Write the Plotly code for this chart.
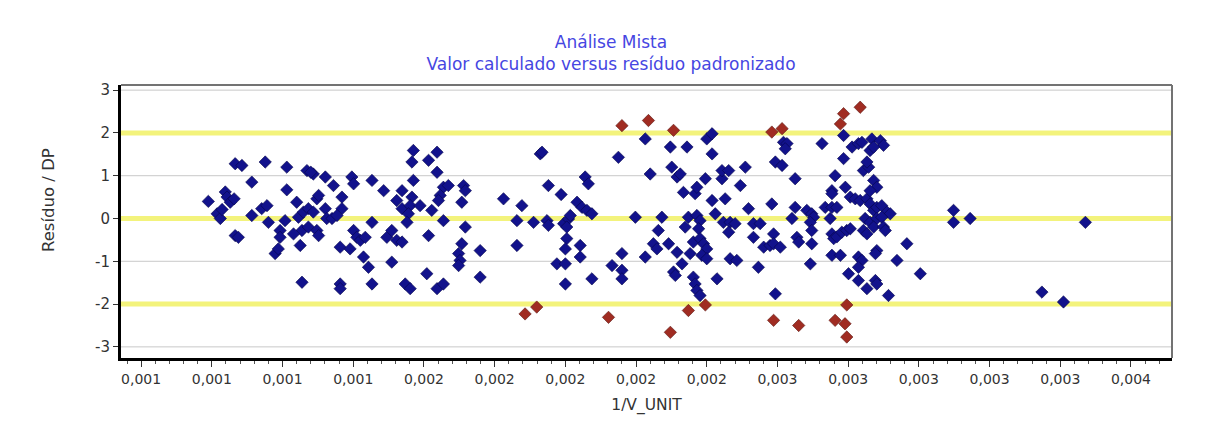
import plotly.graph_objects as go

title_lines = ["Análise Mista", "Valor calculado versus resíduo padronizado"]
x_label = "1/V_UNIT"
y_label = "Resíduo / DP"

# Points inside the +/-2 band (blue)
x_in = [
    0.000990, 0.001015, 0.001024, 0.001029, 0.001038, 0.001043, 0.001052, 0.001063,
    0.001066, 0.001085, 0.001066, 0.001075, 0.001113, 0.001113, 0.001141, 0.001156,
    0.001151, 0.001160, 0.001212, 0.001212, 0.001179, 0.001188, 0.001193, 0.001193,
    0.001207, 0.001240, 0.001245, 0.001259, 0.001255, 0.001231, 0.001250, 0.001255,
    0.001269, 0.001287, 0.001280, 0.001273, 0.001287, 0.001273, 0.001297, 0.001302,
    0.001297, 0.001302, 0.001321, 0.001321, 0.001325, 0.001340, 0.001344, 0.001368,
    0.001368, 0.001354, 0.001363, 0.001391, 0.001363, 0.001363, 0.001396, 0.001401,
    0.001401, 0.001410, 0.001420, 0.001434, 0.001429, 0.001443, 0.001453, 0.001453,
    0.001453, 0.001486, 0.001495, 0.001509, 0.001523, 0.001509, 0.001523, 0.001538,
    0.001538, 0.001547,
    0.001570, 0.001566, 0.001570, 0.001566, 0.001561, 0.001556, 0.001552, 0.001589,
    0.001538, 0.001613, 0.001637, 0.001637, 0.001622, 0.001655, 0.001669, 0.001646,
    0.001641, 0.001655, 0.001613, 0.001561, 0.001608, 0.001637, 0.001655, 0.001712,
    0.001717, 0.001707, 0.001717, 0.001707, 0.001698, 0.001702, 0.001698, 0.001759,
    0.001759, 0.001825, 0.001863, 0.001863, 0.001877, 0.001910, 0.001929, 0.001934,
    0.001948, 0.001952, 0.001952, 0.001988, 0.001976, 0.002000, 0.002000, 0.001995,
    0.002009, 0.002014, 0.002004, 0.002004, 0.002000, 0.002033, 0.002047, 0.002061,
    0.002075, 0.002056, 0.002065, 0.002042, 0.002042, 0.002075, 0.002132, 0.002160,
    0.002160, 0.002160, 0.002150, 0.002198, 0.002226, 0.002240, 0.002226, 0.002249,
    0.002259, 0.002263, 0.002273, 0.002297, 0.002344, 0.002301, 0.002316, 0.002325,
    0.002334, 0.002292, 0.002316, 0.002330, 0.002306, 0.002311, 0.002348, 0.002339,
    0.002362, 0.002353, 0.002362, 0.002367, 0.002372, 0.002381, 0.002367, 0.002372,
    0.002372, 0.002381, 0.002377, 0.002381, 0.002391, 0.002400, 0.002386, 0.002400,
    0.002400, 0.002415, 0.002415, 0.002396, 0.002443, 0.002443, 0.002462, 0.002415,
    0.002452, 0.002424, 0.002429, 0.002447, 0.002466, 0.002480, 0.002462, 0.002466,
    0.002485, 0.002495, 0.002509, 0.002518, 0.002532, 0.002551, 0.002532, 0.002546,
    0.002561, 0.002579, 0.002584, 0.002589, 0.002594, 0.002589, 0.002608,
    0.002617, 0.002627, 0.002622, 0.002594, 0.002613, 0.002650, 0.002650, 0.002641,
    0.002683, 0.002697, 0.002702, 0.002693, 0.002697, 0.002655, 0.002660, 0.002697,
    0.002693, 0.002726, 0.002735, 0.002754, 0.002768, 0.002754, 0.002754, 0.002763,
    0.002749, 0.002754, 0.002759, 0.002768, 0.002782, 0.002796, 0.002806, 0.002754,
    0.002778, 0.002787, 0.002787, 0.002811, 0.002829, 0.002839, 0.002792, 0.002806,
    0.002820, 0.002834, 0.002853, 0.002843, 0.002858, 0.002853, 0.002867, 0.002891,
    0.002900, 0.002862, 0.002872, 0.002872, 0.002881, 0.002862, 0.002862, 0.002872,
    0.002881, 0.002895, 0.002910, 0.002919, 0.002848, 0.002862, 0.002881, 0.002895,
    0.002843, 0.002853, 0.002872, 0.002900, 0.002905, 0.002829, 0.002839, 0.002829,
    0.002801, 0.002829, 0.002853, 0.002881, 0.002877, 0.002877, 0.002881, 0.002914,
    0.002938, 0.002966, 0.003004,
    0.003098, 0.003098, 0.003145, 0.003471, 0.003348, 0.003409,
]
y_in = [
    0.40, 0.11, 0.00, 0.21, 0.62, 0.50, 0.38, 0.46,
    1.28, 1.24, -0.40, -0.44, 0.85, 0.07, 0.23, 0.30,
    1.32, -0.09, 1.20, 0.67, -0.82, -0.71, -0.28, -0.44,
    -0.05, 0.38, 0.03, 0.15, -0.28, -0.36, -0.63, -1.49,
    1.12, 1.04, 1.08, 0.23, 0.15, -0.20, -0.28, -0.40,
    0.46, 0.54, 0.97, 0.23, 0.00, 0.00, 0.77, 0.50,
    0.23, 0.07, -0.67, -0.71, -1.53, -1.64, 0.97, 0.81,
    -0.28, -0.44, -0.51, -0.44, -0.90, -1.14, 0.89, -0.09,
    -1.53, 0.65, -0.44, -0.28, -0.51, -1.02, 0.42, 0.23,
    0.65, -1.53,
    1.59, 1.32, 0.89, 0.50, 0.30, 0.11, -0.09, 0.30,
    -0.55, 1.36, 1.55, 1.08, 0.19, 0.73, 0.77, 0.54,
    0.42, -0.05, -0.40, -1.64, -1.29, -1.64, -1.53, 0.77,
    0.65, 0.38, -0.20, -0.59, -0.82, -0.98, -1.10, -0.75,
    -1.37, 0.46, -0.05, -0.63, 0.30, -0.09, 1.51, 1.55,
    -0.05, -0.16, 0.77, 0.56, -1.06, -1.06, -1.53, -0.12,
    -0.01, 0.07, -0.20, -0.47, -0.71, 0.38, 0.26, 0.19,
    0.11, 0.97, 0.81, -0.63, -0.90, -1.41, -1.10, -0.82,
    -1.21, -1.41, 1.43, 0.03, 1.86, 1.04, -0.90, -0.59,
    -0.71, -0.28, 0.03, 1.67, 1.67, 1.20, 0.97, 1.04,
    0.61, -0.59, -0.79, -1.06, -1.25, -1.33, 0.03, -0.20,
    -0.55, -0.82, -1.37, -1.53, -1.68, -1.80, 0.58, 0.73,
    0.07, -0.05, -0.24, -0.47, -0.59, -0.71, -0.86, -0.94,
    1.86, 1.98, 1.51, 0.93, 0.93, 1.12, 1.12, 0.42,
    0.46, 0.11, -1.41, -0.09, -0.09, -0.12, -0.32, -0.94,
    -0.98, 0.77, 1.20, 0.23, -0.12, -0.12, -0.44, -1.14,
    -0.67, -0.63, 0.34, -0.36, -1.76, -0.59, -0.67,
    1.78, 1.75, 1.63, 1.32, 1.24, 0.93, 0.26, 0.00,
    0.19, 0.11, 0.03, -0.09, -0.28, -0.44, -0.55, -0.59,
    -1.06, 1.75, 0.26, 0.26, 0.26, 0.65, 0.58, 1.00,
    0.00, -0.36, -0.47, -0.43, -0.32, -0.28, -0.24, -0.86,
    -0.86, 1.94, 1.40, 1.67, 1.75, 1.78, 0.73, 0.50,
    0.46, 0.42, 0.46, 1.12, 1.20, 1.32, 1.86, 1.82,
    1.71, 1.59, 1.67, 0.89, 0.73, 0.65, 0.34, 0.19,
    0.26, 0.30, 0.15, 0.11, 0.00, -0.09, 0.00, 0.03,
    -0.28, -0.36, -0.20, -0.20, -0.28, -0.90, -0.98, -1.14,
    -1.29, -1.45, -1.64, -0.75, -0.82, -1.45, -1.53, -1.80,
    -0.98, -0.59, -1.29,
    0.19, -0.09, 0.00, -0.09, -1.72, -1.95,
]

# Points outside the +/-2 band (red)
x_out = [
    0.002160, 0.002235, 0.002306, 0.002584, 0.002613, 0.002787, 0.002778, 0.002834,
    0.001886, 0.001919, 0.002122, 0.002348, 0.002297, 0.002396, 0.002589, 0.002660,
    0.002796, 0.002763, 0.002791, 0.002796,
]
y_out = [
    2.17, 2.29, 2.06, 2.02, 2.10, 2.45, 2.21, 2.60,
    -2.23, -2.07, -2.31, -2.15, -2.66, -2.02, -2.38, -2.50,
    -2.02, -2.38, -2.46, -2.77,
]

limit_lines = [-2, 0, 2]          # yellow reference lines
grid_lines = [-3, -1, 1, 3]       # grey grid lines
y_tick_vals = [-3, -2, -1, 0, 1, 2, 3]
y_tick_text = ["-3", "-2", "-1", "0", "1", "2", "3"]
x_range = [0.000743, 0.003716]
y_range = [-3.26, 3.12]

FONT = "DejaVu Sans"

# page body has an 8px margin: figure is laid out so that the plot sits
# where the reference window shows it
W, H = 1198, 425
ML, MR, MT, MB = 113, 34, 77, 75

fig = go.Figure()
fig.add_trace(go.Scatter(
    x=x_in, y=y_in, mode="markers", showlegend=False,
    marker=dict(symbol="diamond", size=9.5, color="#12128c",
                line=dict(width=0.6, color="#06064a")),
))
fig.add_trace(go.Scatter(
    x=x_out, y=y_out, mode="markers", showlegend=False,
    marker=dict(symbol="diamond", size=9.5, color="#a02c22",
                line=dict(width=0.6, color="#5a1510")),
))

for v in grid_lines:
    fig.add_shape(type="line", xref="x domain", yref="y", x0=0, x1=1, y0=v, y1=v,
                  line=dict(color="#c8c8c8", width=1), layer="below")
for v in limit_lines:
    fig.add_shape(type="line", xref="x domain", yref="y", x0=0, x1=1, y0=v, y1=v,
                  line=dict(color="#f3f37c", width=5), layer="below")

# top and right frame
fig.add_shape(type="line", xref="x domain", yref="y domain", x0=0, x1=1, y0=1, y1=1,
              line=dict(color="#737373", width=2), layer="above")
fig.add_shape(type="line", xref="x domain", yref="y domain", x0=1, x1=1, y0=0, y1=1,
              line=dict(color="#737373", width=2), layer="above")

plot_w = W - ML - MR
plot_h = H - MT - MB
fig.add_annotation(
    text=y_label, textangle=-90, showarrow=False,
    xref="paper", yref="paper",
    x=(40 - ML) / plot_w, y=(H - MB - 192) / plot_h,
    xanchor="center", yanchor="middle",
    font=dict(family=FONT, size=16.5, color="#333333"),
)

fig.update_layout(
    width=W, height=H,
    margin=dict(l=ML, r=MR, t=MT, b=MB),
    paper_bgcolor="white", plot_bgcolor="white",
    separators=",.",
    font=dict(family=FONT, size=15, color="#333333"),
    title=dict(
        text="<br>".join(title_lines),
        x=603 / W, xref="container", xanchor="center",
        y=1 - 40 / H, yref="container", yanchor="top",
        font=dict(family=FONT, size=17, color="#4646e2"),
    ),
)
fig.update_xaxes(
    range=x_range, tick0=0.0008, dtick=0.0002, tickformat=".3f",
    showgrid=False, zeroline=False,
    showline=True, linecolor="black", linewidth=3,
    ticks="outside", ticklen=6, tickcolor="#333333", tickwidth=1,
    minor=dict(dtick=0.00004, ticks="outside", ticklen=3, tickcolor="#555555", showgrid=False),
    tickfont=dict(family=FONT, size=14, color="#333333"),
    title=dict(text=x_label, standoff=14, font=dict(family=FONT, size=15.5, color="#333333")),
)
fig.update_yaxes(
    range=y_range, tickvals=y_tick_vals, ticktext=y_tick_text,
    showgrid=False, zeroline=False,
    showline=True, linecolor="black", linewidth=3,
    ticks="outside", ticklen=5, tickcolor="#333333", tickwidth=1,
    tickfont=dict(family=FONT, size=15, color="#333333"),
)

fig.write_html("out.html")
